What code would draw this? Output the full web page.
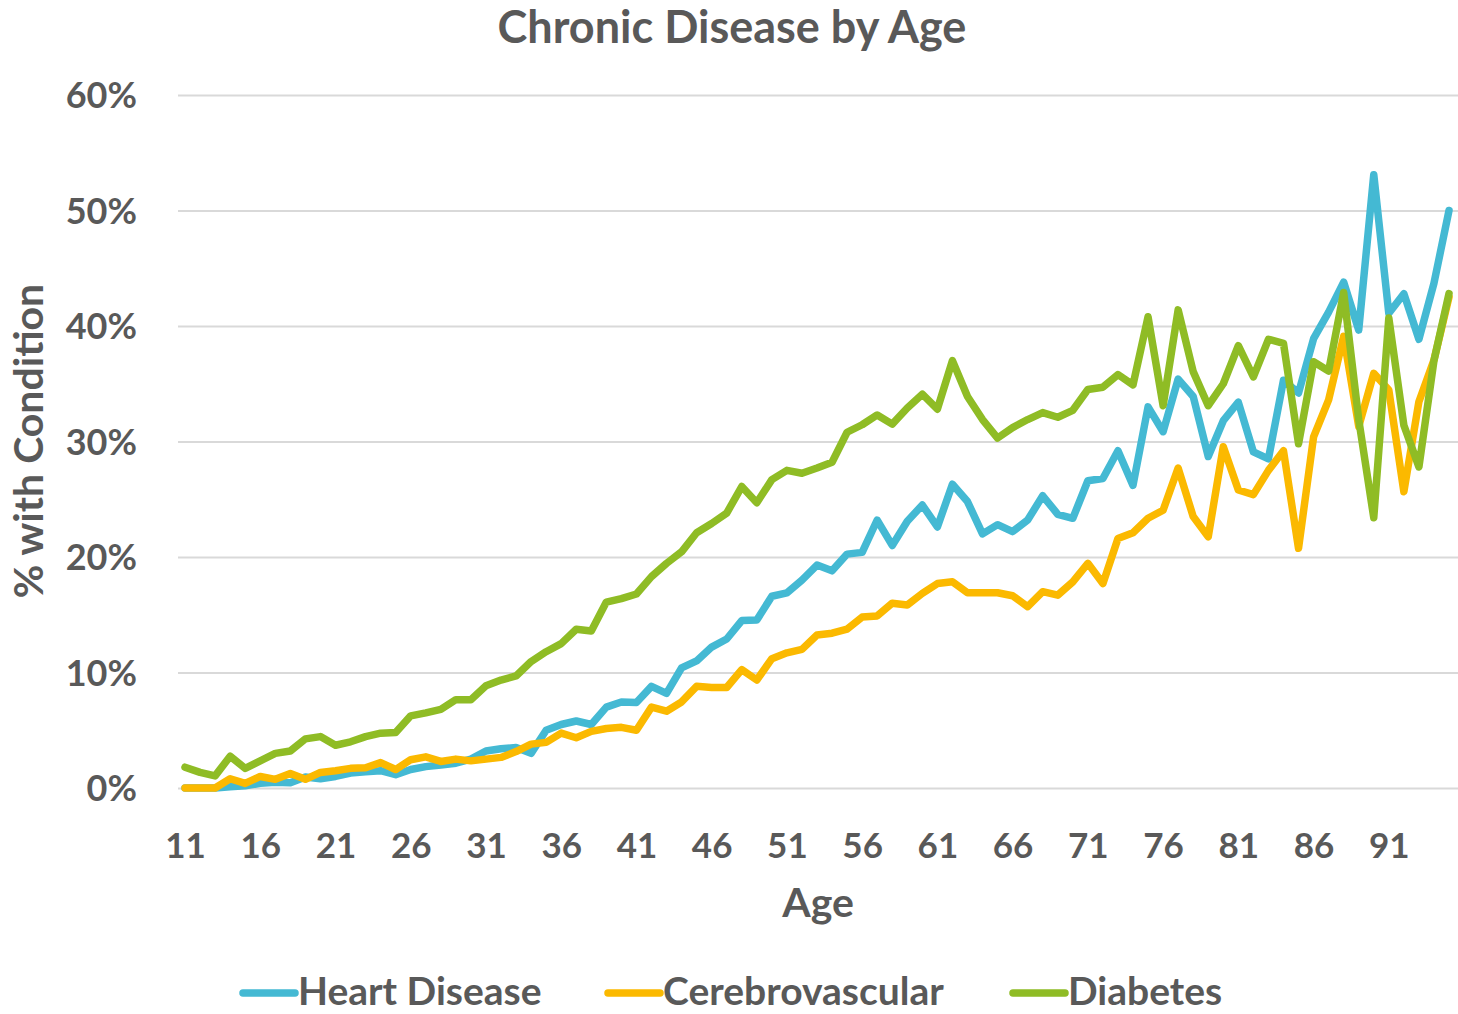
<!DOCTYPE html>
<html>
<head>
<meta charset="utf-8">
<script src="https://cdn.jsdelivr.net/npm/d3@7"></script>
<style>
  body { margin: 0; background: #fff; }
  svg text { font-family: Lato, "Open Sans", sans-serif; fill: #595959; }
</style>
</head>
<body>
<div id="chart"></div>
<script>
// ages shown on the category axis
var ages = d3.range(11, 96)
var tickAges = [11, 16, 21, 26, 31, 36, 41, 46, 51, 56, 61, 66, 71, 76, 81, 86, 91]
var yTicks = [0, 0.1, 0.2, 0.3, 0.4, 0.5, 0.6]

// % with condition (ages 11..95)
var heartDisease = [
  0, 0, 0, 0.1, 0.2, 0.4, 0.5, 0.45, 0.95, 0.8,
  1.0, 1.3, 1.4, 1.5, 1.15, 1.6, 1.85, 2.0, 2.15, 2.5,
  3.2, 3.4, 3.5, 3.0, 5.0, 5.5, 5.8, 5.5, 7.0, 7.45,
  7.4, 8.8, 8.2, 10.4, 11.0, 12.2, 12.9, 14.5, 14.55, 16.6,
  16.9, 18.0, 19.3, 18.8, 20.25, 20.4, 23.2, 21.0, 23.1, 24.5,
  22.6, 26.3, 24.8, 22.0, 22.8, 22.2, 23.2, 25.3, 23.7, 23.35,
  26.6, 26.8, 29.2, 26.2, 33.0, 30.85, 35.4, 33.9, 28.7, 31.8,
  33.4, 29.1, 28.5, 35.3, 34.2, 38.9, 41.2, 43.8, 39.65, 53.1,
  41.1, 42.8, 38.85, 43.7, 50.0
]
var cerebrovascular = [
  0, 0, 0, 0.8, 0.4, 1.0, 0.75, 1.25, 0.75, 1.35,
  1.5, 1.7, 1.75, 2.2, 1.6, 2.45, 2.7, 2.3, 2.5, 2.35,
  2.5, 2.65, 3.15, 3.8, 3.95, 4.75, 4.35, 4.9, 5.15, 5.25,
  5.0, 7.0, 6.65, 7.45, 8.8, 8.7, 8.7, 10.25, 9.35, 11.2,
  11.7, 12.0, 13.25, 13.4, 13.75, 14.8, 14.9, 16.0, 15.85, 16.85,
  17.7, 17.85, 16.9, 16.9, 16.9, 16.65, 15.7, 17.0, 16.7, 17.85,
  19.45, 17.7, 21.6, 22.1, 23.35, 24.05, 27.7, 23.5, 21.75, 29.55,
  25.8, 25.4, 27.5, 29.2, 20.75, 30.4, 33.6, 39.1, 31.3, 35.9,
  34.45, 25.65, 33.45, 37.05, 42.5
]
var diabetes = [
  1.8, 1.35, 1.05, 2.75, 1.7, 2.35, 3.0, 3.2, 4.25, 4.45,
  3.7, 4.0, 4.45, 4.75, 4.8, 6.25, 6.5, 6.8, 7.65, 7.65,
  8.85, 9.35, 9.7, 10.95, 11.8, 12.5, 13.75, 13.6, 16.1, 16.4,
  16.8, 18.3, 19.45, 20.45, 22.1, 22.9, 23.8, 26.1, 24.7, 26.7,
  27.5, 27.25, 27.7, 28.2, 30.8, 31.45, 32.3, 31.5, 32.9, 34.1,
  32.8, 37.0, 33.9, 31.9, 30.3, 31.2, 31.9, 32.5, 32.1, 32.7,
  34.5, 34.7, 35.8, 34.9, 40.8, 33.1, 41.4, 36.05, 33.1, 35.0,
  38.3, 35.6, 38.85, 38.5, 29.8, 36.9, 36.1, 42.9, 31.9, 23.4,
  40.7, 31.4, 27.8, 37.0, 42.8
]

var seriesNames = ['Heart Disease', 'Cerebrovascular', 'Diabetes']
var seriesValues = [heartDisease, cerebrovascular, diabetes]
var colors = ['#44B9D3', '#FBB900', '#8FBC25']

var width = 1458
var height = 1014
var margin = { top: 95, right: 9, bottom: 226, left: 185 }

var svg = d3
  .select('#chart')
  .append('svg')
  .attr('width', width)
  .attr('height', height)

var xPositionScale = d3
  .scaleLinear()
  .domain([11, 95])
  .range([margin.left, width - margin.right])

var yPositionScale = d3
  .scaleLinear()
  .domain([0, 0.6])
  .range([height - margin.bottom, margin.top])

// gridlines + y labels
var yAxis = d3
  .axisLeft(yPositionScale)
  .tickValues(yTicks)
  .tickFormat(d3.format('.0%'))
  .tickSize(-(width - 178))
  .tickPadding(41)

svg
  .append('g')
  .attr('class', 'y-axis')
  .attr('transform', 'translate(178,0)')
  .call(yAxis)
  .call(g => g.select('.domain').remove())
  .call(g => g.selectAll('line').attr('stroke', '#d9d9d9').attr('stroke-width', 2))
  .call(g =>
    g
      .selectAll('text')
      .style('font-size', '36px')
      .style('font-weight', 'bold')
      .attr('dy', '0.35em')
  )

var xAxis = d3
  .axisBottom(xPositionScale)
  .tickValues(tickAges)
  .tickSize(0)
  .tickPadding(45)

svg
  .append('g')
  .attr('class', 'x-axis')
  .attr('transform', 'translate(0,' + yPositionScale(0) + ')')
  .call(xAxis)
  .call(g => g.select('.domain').remove())
  .call(g =>
    g
      .selectAll('text')
      .style('font-size', '35px')
      .style('font-weight', 'bold')
  )

var line = d3
  .line()
  .x((d, i) => xPositionScale(ages[i]))
  .y(d => yPositionScale(d / 100))

svg
  .selectAll('.series')
  .data(seriesValues)
  .enter()
  .append('path')
  .attr('class', 'series')
  .attr('d', d => line(d))
  .attr('fill', 'none')
  .attr('stroke', (d, i) => colors[i])
  .attr('stroke-width', 7.5)
  .attr('stroke-linejoin', 'round')
  .attr('stroke-linecap', 'round')

// title
svg
  .append('text')
  .attr('x', 732)
  .attr('y', 43)
  .attr('text-anchor', 'middle')
  .style('font-size', '45px')
  .style('font-weight', 'bold')
  .text('Chronic Disease by Age')

// axis titles
svg
  .append('text')
  .attr('x', 818)
  .attr('y', 917)
  .attr('text-anchor', 'middle')
  .style('font-size', '41px')
  .style('font-weight', 'bold')
  .text('Age')

svg
  .append('text')
  .attr('transform', 'translate(43,441) rotate(-90)')
  .attr('text-anchor', 'middle')
  .style('font-size', '41px')
  .style('font-weight', 'bold')
  .text('% with Condition')

// legend
var legendX = [240, 605, 1010]
var legend = svg
  .selectAll('.legend')
  .data(seriesNames)
  .enter()
  .append('g')
  .attr('class', 'legend')
  .attr('transform', (d, i) => 'translate(' + legendX[i] + ',993)')

legend
  .append('line')
  .attr('x1', 3)
  .attr('x2', 55)
  .attr('stroke', (d, i) => colors[i])
  .attr('stroke-width', 7.5)
  .attr('stroke-linecap', 'round')

legend
  .append('text')
  .attr('x', 58)
  .attr('y', 12)
  .style('font-size', '39px')
  .style('font-weight', 'bold')
  .text(d => d)
</script>
</body>
</html>
